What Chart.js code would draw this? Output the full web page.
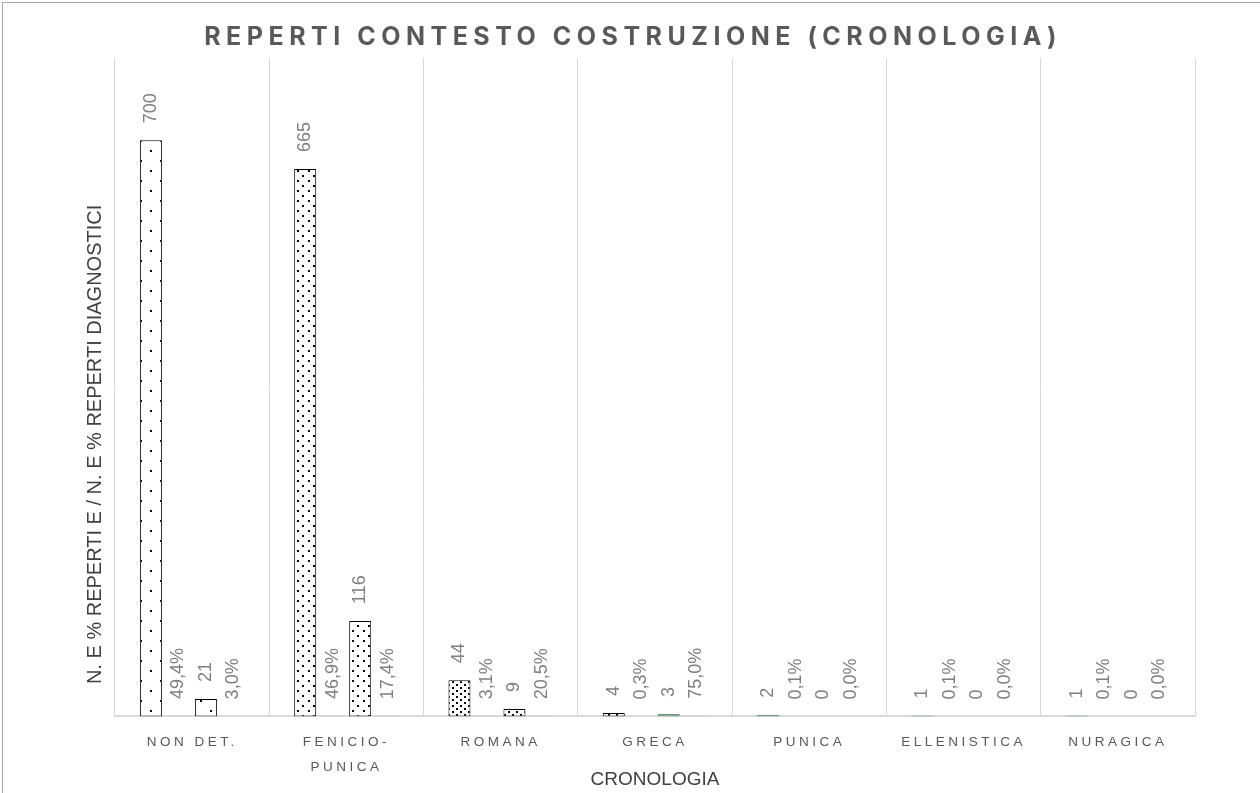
<!doctype html>
<html lang="it">
<head>
<meta charset="UTF-8">
<title>Reperti contesto costruzione (cronologia)</title>
<script src="https://cdn.jsdelivr.net/npm/chart.js"></script>
<style>
  html, body { margin: 0; padding: 0; background: #fff; }
  .chart-box { position: relative; width: 1260px; height: 793px; }
</style>
</head>
<body>
<div class="chart-box">
  <canvas id="chart"></canvas>
</div>
<script>
// categories and values
const categories = ['NON DET.', ['FENICIO-', 'PUNICA'], 'ROMANA', 'GRECA', 'PUNICA', 'ELLENISTICA', 'NURAGICA'];
const nReperti = [700, 665, 44, 4, 2, 1, 1];
const pctReperti = [0.494, 0.469, 0.031, 0.003, 0.001, 0.001, 0.001];
const nDiagnostici = [21, 116, 9, 3, 0, 0, 0];
const pctDiagnostici = [0.030, 0.174, 0.205, 0.750, 0.000, 0.000, 0.000];
const yMax = 800;

const GREEN = '#6e9a7e';
const LIGHT = '#c5d1ca';

// dotted fills, sparser on the tall bars
function dots(w, h, pts) {
  const c = document.createElement('canvas');
  c.width = w; c.height = h;
  const g = c.getContext('2d');
  g.fillStyle = '#fff';
  g.fillRect(0, 0, w, h);
  g.fillStyle = '#000';
  pts.forEach(p => g.fillRect(p[0], p[1], 2, 2));
  return document.getElementById('chart').getContext('2d').createPattern(c, 'repeat');
}
const patSparse = dots(20, 20, [[0, 0], [10, 10]]);
const patMedium = dots(11, 10, [[0, 0], [5, 5]]);
const patDense = dots(8, 6, [[0, 0], [4, 3]]);

function countFill(ctx) {
  const v = ctx.raw;
  if (v < 4) return GREEN;
  if (ctx.dataIndex === 0) return patSparse;
  if (ctx.dataIndex === 1) return patMedium;
  return patDense;
}
function countBorder(ctx) {
  return ctx.raw < 4 ? GREEN : '#000';
}

function fmtPct(v) {
  return (v * 100).toFixed(1).replace('.', ',') + '%';
}

// rotated labels above each bar
const barLabels = {
  id: 'barLabels',
  afterDatasetsDraw(chart) {
    const ctx = chart.ctx;
    ctx.save();
    ctx.font = '18px "Liberation Sans", Arial, sans-serif';
    ctx.fillStyle = '#7f7f7f';
    ctx.textAlign = 'left';
    ctx.textBaseline = 'middle';
    chart.data.datasets.forEach((ds, i) => {
      chart.getDatasetMeta(i).data.forEach((el, j) => {
        const v = ds.data[j];
        const txt = ds.isPct ? fmtPct(v) : String(v);
        ctx.save();
        ctx.translate(el.x, el.y - 17);
        ctx.rotate(-Math.PI / 2);
        ctx.fillText(txt, 0, 0);
        ctx.restore();
      });
    });
    ctx.restore();
  }
};

// spaced tick labels, titles and outer frame
const decor = {
  id: 'decor',
  beforeDraw(chart) {
    chart.ctx.letterSpacing = '3.5px';
  },
  beforeDatasetsDraw(chart) {
    chart.ctx.letterSpacing = '0px';
  },
  afterDraw(chart) {
    const ctx = chart.ctx;
    const a = chart.chartArea;
    ctx.save();
    ctx.strokeStyle = '#a6a6a6';
    ctx.lineWidth = 1;
    ctx.strokeRect(2.5, 2.5, chart.width + 20, chart.height + 20);

    ctx.fillStyle = '#595959';
    ctx.textAlign = 'center';
    ctx.textBaseline = 'middle';
    ctx.letterSpacing = '5.5px';
    ctx.font = 'bold 25px Inter, "Liberation Sans", sans-serif';
    ctx.fillText('REPERTI CONTESTO COSTRUZIONE (CRONOLOGIA)', chart.width / 2 + 3, 37);

    ctx.letterSpacing = '0px';
    ctx.fillStyle = '#404040';
    ctx.font = '19px "Liberation Sans", Arial, sans-serif';
    ctx.fillText('CRONOLOGIA', (a.left + a.right) / 2, 780);

    ctx.translate(a.left - 20, a.bottom - 272);
    ctx.rotate(-Math.PI / 2);
    ctx.font = '20px "Liberation Sans", Arial, sans-serif';
    ctx.fillText('N. E % REPERTI E / N. E % REPERTI DIAGNOSTICI', 0, 0);
    ctx.restore();
  }
};

new Chart(document.getElementById('chart'), {
  type: 'bar',
  data: {
    labels: categories,
    datasets: [
      { label: 'N. reperti', data: nReperti, backgroundColor: countFill, borderColor: countBorder },
      { label: '% reperti', data: pctReperti, isPct: true, backgroundColor: LIGHT, borderWidth: 0 },
      { label: 'N. reperti diagnostici', data: nDiagnostici, backgroundColor: countFill, borderColor: countBorder },
      { label: '% reperti diagnostici', data: pctDiagnostici, isPct: true, backgroundColor: LIGHT, borderWidth: 0 }
    ]
  },
  options: {
    responsive: true,
    maintainAspectRatio: false,
    animation: false,
    datasets: {
      bar: { borderWidth: 1, borderSkipped: false, categoryPercentage: 0.713, barPercentage: 0.8 }
    },
    layout: { padding: { left: 115, right: 65, top: 58, bottom: 0 } },
    plugins: { legend: { display: false }, tooltip: { enabled: false } },
    scales: {
      x: {
        grid: { color: '#d9d9d9', lineWidth: 1, drawTicks: false, offset: true },
        border: { color: '#d9d9d9', width: 2 },
        ticks: {
          color: '#595959',
          font: { family: '"Liberation Sans", Arial, sans-serif', size: 13.5, lineHeight: 1.8 },
          padding: 14,
          maxRotation: 0,
          autoSkip: false
        }
      },
      y: {
        display: false,
        min: 0,
        max: yMax
      }
    }
  },
  plugins: [barLabels, decor]
});
</script>
</body>
</html>
